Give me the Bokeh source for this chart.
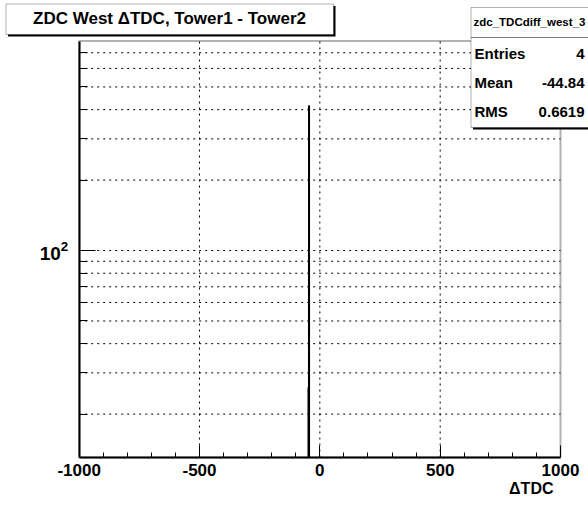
import math
from bokeh.plotting import figure
from bokeh.models import (FixedTicker, Label, BoxAnnotation, Range1d,
                          LinearAxis, LogAxis)
from bokeh.embed import file_html
from bokeh.resources import INLINE

# ---------------- data ----------------
bin_left = [-48, -46]
bin_right = [-46, -44]
counts = [26, 415]

x_major = [-1000, -500, 0, 500, 1000]
x_minor = [-900, -800, -700, -600, -400, -300, -200, -100,
           100, 200, 300, 400, 600, 700, 800, 900]
x_labels = {-1000: "-1000", -500: "-500", 0: "0", 500: "500", 1000: "1000"}
x_grid = [-500, 0, 500]
y_major = [100]
y_minor = [20, 30, 40, 50, 60, 70, 80, 90, 200, 300, 400, 500, 600, 700]
y_grid = [20, 30, 40, 50, 60, 70, 80, 90, 100, 200, 300, 400, 500, 600, 700]

x_lo, x_hi = -1000, 1000
y_lo, y_hi = 13.05, 786

title_text = "ZDC West \u0394TDC, Tower1 - Tower2"
x_title = "\u0394TDC"
stats_name = "zdc_TDCdiff_west_3"
stats_keys = ["Entries", "Mean", "RMS"]
stats_vals = ["4", "-44.84", "0.6619"]

# ---------------- layout ----------------
FONT = "Liberation Sans"
W, H = 588, 510
FL, FR, FT, FB = 78.7, 560.0, 40.5, 457.0   # frame edges (canvas px)

ppx = (FR - FL) / (x_hi - x_lo)
x_range = Range1d(x_lo - FL / ppx, x_hi + (W - FR) / ppx)
dpp = (math.log10(y_hi) - math.log10(y_lo)) / (FB - FT)
y_range = Range1d(10 ** (math.log10(y_lo) - (H - FB) * dpp),
                  10 ** (math.log10(y_hi) + FT * dpp))

p = figure(width=W, height=H, title=None,
           x_range=x_range, y_range=y_range, y_axis_type="log",
           x_axis_location=None, y_axis_location=None,
           output_backend="svg", toolbar_location=None,
           min_border_left=0, min_border_right=0,
           min_border_top=0, min_border_bottom=0)
p.background_fill_color = "white"
p.border_fill_color = "white"
p.outline_line_color = None
for g in p.grid:
    g.visible = False

# ---------------- grid (dotted) ----------------
p.segment(x0=x_grid, y0=[y_lo] * len(x_grid), x1=x_grid, y1=[y_hi] * len(x_grid),
          line_color="black", line_width=1, line_dash="2 4")
p.segment(x0=[x_lo] * len(y_grid), y0=y_grid, x1=[x_hi] * len(y_grid), y1=y_grid,
          line_color="black", line_width=1, line_dash="2 4")

# ---------------- histogram outline ----------------
xs = [bin_left[0]]
ys = [y_lo]
for l, r, c in zip(bin_left, bin_right, counts):
    xs += [l, r]
    ys += [c, c]
xs.append(bin_right[-1])
ys.append(y_lo)
p.line(xs, ys, line_color="black", line_width=1.6)

# ---------------- axes ----------------
xa = LinearAxis(fixed_location=y_lo, bounds=(x_lo, x_hi),
                ticker=FixedTicker(ticks=x_major, minor_ticks=x_minor),
                major_label_overrides=x_labels)
xa.axis_line_width = 2
xa.major_tick_in = 12
xa.major_tick_out = 0
xa.minor_tick_in = 5
xa.minor_tick_out = 0
xa.major_label_standoff = 6
xa.major_label_text_font = FONT
xa.major_label_text_font_style = "bold"
xa.major_label_text_font_size = "17px"
xa.major_label_text_color = "black"
p.add_layout(xa, "below")

ya = LogAxis(fixed_location=x_lo, bounds=(y_lo, y_hi),
             ticker=FixedTicker(ticks=y_major, minor_ticks=y_minor))
ya.axis_line_width = 2
ya.major_tick_in = 16
ya.major_tick_out = 0
ya.minor_tick_in = 8
ya.minor_tick_out = 0
ya.major_label_standoff = 11
ya.major_label_text_font = FONT
ya.major_label_text_font_style = "bold"
ya.major_label_text_font_size = "19px"
ya.major_label_text_color = "black"
p.add_layout(ya, "left")

# frame border (top / right)
p.add_layout(BoxAnnotation(left=x_lo, right=x_hi, bottom=y_lo, top=y_hi,
                           fill_alpha=0, line_color="black", line_width=2))


def cbox(l, r, t, b, **kw):
    return BoxAnnotation(left=l, right=r, top=t, bottom=b,
                         left_units="canvas", right_units="canvas",
                         top_units="canvas", bottom_units="canvas", **kw)


def ctext(x, y, text, size, align="left"):
    return Label(x=x, y=y, x_units="canvas", y_units="canvas", text=text,
                 text_font=FONT, text_font_style="bold", text_font_size=size,
                 text_align=align, text_baseline="middle", text_color="black")


# ---------------- title box ----------------
p.add_layout(cbox(7.5, 335, 5.5, 36, fill_color="black", fill_alpha=1, line_alpha=0))
p.add_layout(cbox(5.5, 333, 3.5, 34, fill_color="white", fill_alpha=1,
                  line_color="black", line_width=1))
p.add_layout(ctext(169, 18, title_text, "17px", "center"))

# ---------------- stats box ----------------
p.add_layout(cbox(472.5, 600, 9, 129, fill_color="black", fill_alpha=1, line_alpha=0))
p.add_layout(cbox(470.5, 600, 7, 127, fill_color="white", fill_alpha=1,
                  line_color="black", line_width=1))
p.add_layout(cbox(470.5, 600, 37, 37, fill_alpha=0, line_color="black", line_width=1))
p.add_layout(ctext(473, 21, stats_name, "11.5px", "left"))
row_y = [53, 82, 111]
for k, v, yy in zip(stats_keys, stats_vals, row_y):
    p.add_layout(ctext(474, yy, k, "15px", "left"))
    p.add_layout(ctext(584, yy, v, "15px", "right"))

# ---------------- x axis title ----------------
p.add_layout(ctext(553, 488, x_title, "16px", "right"))

open("out.html", "w").write(file_html(p, INLINE))
